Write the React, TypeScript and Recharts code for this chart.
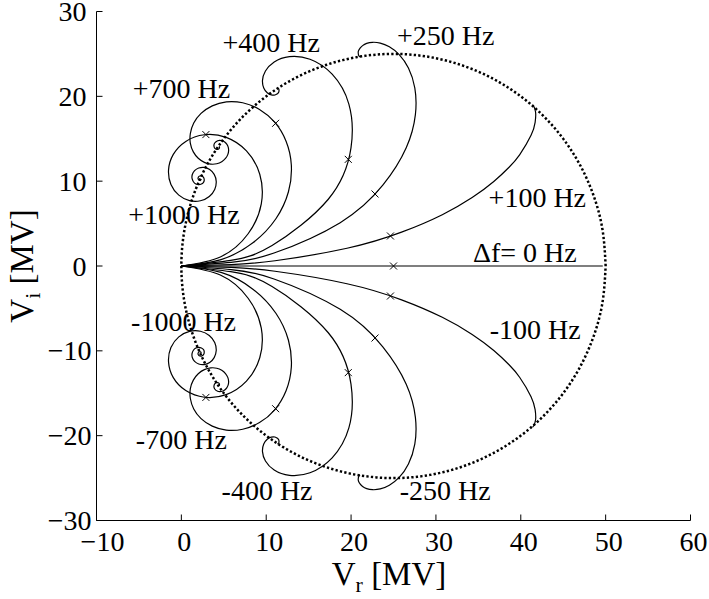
import React from 'react';
import { ComposedChart, Line, Scatter, XAxis, YAxis, Label } from 'recharts';

const FONT = '"Liberation Serif", "Times New Roman", Times, serif';

// Axis ticks
const xTicks = [-10, 0, 10, 20, 30, 40, 50, 60];
const yTicks = [-30, -20, -10, 0, 10, 20, 30];

// Steady-state circle (dotted)
const circleVr = [50, 49.62, 48.49, 46.65, 44.15, 41.07, 37.5, 33.55, 29.34, 25, 20.66, 16.45, 12.5, 8.93, 5.85, 3.35, 1.51, 0.38, 0, 0.38, 1.51, 3.35, 5.85, 8.93, 12.5, 16.45, 20.66, 25, 29.34, 33.55, 37.5, 41.07, 44.15, 46.65, 48.49, 49.62, 50];
const circleVi = [0, 4.34, 8.55, 12.5, 16.07, 19.15, 21.65, 23.49, 24.62, 25, 24.62, 23.49, 21.65, 19.15, 16.07, 12.5, 8.55, 4.34, 0, -4.34, -8.55, -12.5, -16.07, -19.15, -21.65, -23.49, -24.62, -25, -24.62, -23.49, -21.65, -19.15, -16.07, -12.5, -8.55, -4.34, 0];

// Δf = 0 Hz
const vr0 = [0, 25, 49.66];
const vi0 = [0, 0, 0];

// ±100 Hz
const vr100 = [0, 5.87, 11.04, 19.52, 25.95, 30.75, 34.27, 36.82, 38.62, 39.86, 41.21, 41.69, 41.76, 41.66, 41.52, 41.39];
const vi100 = [0, 0.17, 0.62, 2.09, 3.99, 6.05, 8.07, 9.96, 11.64, 13.11, 15.4, 16.94, 17.91, 18.5, 18.83, 19.0];
const viN100 = [0, -0.17, -0.62, -2.09, -3.99, -6.05, -8.07, -9.96, -11.64, -13.11, -15.4, -16.94, -17.91, -18.5, -18.83, -19.0];

// ±250 Hz
const vr250 = [0, 5.86, 10.92, 18.72, 23.74, 26.5, 27.58, 27.51, 26.76, 25.67, 24.51, 23.44, 22.53, 21.84, 21.36, 21.06, 20.89, 20.84, 20.91, 21.06];
const vi250 = [0, 0.42, 1.53, 5.11, 9.52, 13.93, 17.84, 20.99, 23.33, 24.92, 25.84, 26.28, 26.37, 26.24, 25.98, 25.68, 25.39, 25.14, 24.79, 24.64];
const viN250 = [0, -0.42, -1.53, -5.11, -9.52, -13.93, -17.84, -20.99, -23.33, -24.92, -25.84, -26.28, -26.37, -26.24, -25.98, -25.68, -25.39, -25.14, -24.79, -24.64];

// ±400 Hz
const vr400 = [0, 5.82, 10.69, 17.29, 19.99, 19.74, 17.77, 15.16, 12.74, 10.94, 9.91, 9.56, 9.71, 10.12, 10.6, 11.02, 11.32, 11.48, 11.48, 11.3];
const vi400 = [0, 0.67, 2.42, 7.84, 13.92, 19.09, 22.61, 24.37, 24.68, 24.05, 22.98, 21.88, 20.99, 20.42, 20.17, 20.16, 20.31, 20.51, 20.86, 20.98];
const viN400 = [0, -0.67, -2.42, -7.84, -13.92, -19.09, -22.61, -24.37, -24.68, -24.05, -22.98, -21.88, -20.99, -20.42, -20.17, -20.16, -20.31, -20.51, -20.86, -20.98];

// ±700 Hz
const vr700 = [0, 4.68, 8.47, 11.14, 12.62, 12.96, 12.34, 11.0, 9.21, 7.23, 5.3, 3.64, 2.32, 1.46, 1.06, 1.06, 1.41, 1.99, 2.71, 3.46, 4.17, 4.76, 5.2, 5.47, 5.57, 5.52, 5.35, 5.11, 4.82, 4.54, 4.28, 3.93, 3.84, 3.95, 4.16, 4.35, 4.47, 4.49, 4.44];
const vi700 = [0, 0.76, 2.76, 5.57, 8.75, 11.91, 14.71, 16.95, 18.46, 19.24, 19.35, 18.88, 17.99, 16.85, 15.62, 14.45, 13.45, 12.7, 12.22, 12.01, 12.05, 12.3, 12.68, 13.13, 13.59, 14.02, 14.37, 14.62, 14.77, 14.81, 14.77, 14.5, 14.15, 13.87, 13.75, 13.77, 13.88, 14.02, 14.11];
const viN700 = [0, -0.76, -2.76, -5.57, -8.75, -11.91, -14.71, -16.95, -18.46, -19.24, -19.35, -18.88, -17.99, -16.85, -15.62, -14.45, -13.45, -12.7, -12.22, -12.01, -12.05, -12.3, -12.68, -13.13, -13.59, -14.02, -14.37, -14.62, -14.77, -14.81, -14.77, -14.5, -14.15, -13.87, -13.75, -13.77, -13.88, -14.02, -14.11];

// ±1000 Hz
const vr1000 = [0, 4.59, 7.87, 9.42, 9.24, 7.67, 5.28, 2.72, 0.52, -0.95, -1.51, -1.23, -0.3, 0.96, 2.25, 3.29, 3.93, 4.11, 3.87, 3.34, 2.68, 2.05, 1.56, 1.29, 1.26, 1.42, 1.71, 2.05, 2.36, 2.59, 2.69, 2.64, 2.42, 2.17, 2.0, 1.98, 2.13, 2.28, 2.34];
const vi1000 = [0, 1.07, 3.8, 7.33, 10.82, 13.57, 15.16, 15.47, 14.69, 13.16, 11.33, 9.61, 8.35, 7.7, 7.69, 8.2, 9.03, 9.97, 10.8, 11.37, 11.62, 11.55, 11.24, 10.79, 10.32, 9.93, 9.67, 9.59, 9.66, 9.84, 10.07, 10.41, 10.6, 10.61, 10.47, 10.24, 10.11, 10.14, 10.26];
const viN1000 = [0, -1.07, -3.8, -7.33, -10.82, -13.57, -15.16, -15.47, -14.69, -13.16, -11.33, -9.61, -8.35, -7.7, -7.69, -8.2, -9.03, -9.97, -10.8, -11.37, -11.62, -11.55, -11.24, -10.79, -10.32, -9.93, -9.67, -9.59, -9.66, -9.84, -10.07, -10.41, -10.6, -10.61, -10.47, -10.24, -10.11, -10.14, -10.26];

// "x" markers (voltage after the fill time)
const markVr = [25.0, 24.64, 22.82, 19.67, 11.11, 2.89, 24.64, 22.82, 19.67, 11.11, 2.89];
const markVi = [0, 3.54, 8.49, 12.57, 16.82, 15.49, -3.54, -8.49, -12.57, -16.82, -15.49];

// Annotation texts and their anchor (baseline centre) in data units
const labelTexts = ['+250 Hz', '+400 Hz', '+700 Hz', '+1000 Hz', '+100 Hz', '\u0394f= 0 Hz', '-100 Hz', '-1000 Hz', '-700 Hz', '-400 Hz', '-250 Hz'];
const labelVr = [31.16, 10.58, 0.0, 0.3, 41.95, 40.48, 41.7, 0.26, 0.0, 10.1, 31.1];
const labelVi = [26.11, 25.23, 19.86, 4.95, 7.01, 0.53, -8.6, -7.66, -21.57, -27.6, -27.64];

const pts = (xs: number[], ys: number[]) => xs.map((x, i) => ({ x, y: ys[i] }));

const curves = [
  pts(vr0, vi0),
  pts(vr100, vi100), pts(vr100, viN100),
  pts(vr250, vi250), pts(vr250, viN250),
  pts(vr400, vi400), pts(vr400, viN400),
  pts(vr700, vi700), pts(vr700, viN700),
  pts(vr1000, vi1000), pts(vr1000, viN1000),
];
const circle = pts(circleVr, circleVi);
const marks = pts(markVr, markVi);
const annotations = labelTexts.map((t, i) => ({ x: labelVr[i], y: labelVi[i], label: t }));

const fmt = (v: number) => (v < 0 ? '\u2212' + Math.abs(v) : String(v));

const BottomTick = (props: any) => {
  const { x, y, payload } = props;
  const v = payload.value;
  return (
    <g>
      <line x1={x} y1={y} x2={x} y2={y - 6} stroke="#000" strokeWidth={1} />
      <text x={x + (v < 0 ? 6 : 3)} y={y + 30} textAnchor="middle" fontFamily={FONT} fontSize={28} fill="#000">{fmt(v)}</text>
    </g>
  );
};
const TopTick = (props: any) => {
  const { x, y } = props;
  return <line x1={x} y1={y} x2={x} y2={y + 6} stroke="#000" strokeWidth={1} />;
};
const LeftTick = (props: any) => {
  const { x, y, payload } = props;
  const v = payload.value;
  return (
    <g>
      <line x1={x} y1={y} x2={x + 6} y2={y} stroke="#000" strokeWidth={1} />
      <text x={x - (v < 0 ? 5 : 10)} y={y + 9.5} textAnchor="end" fontFamily={FONT} fontSize={28} fill="#000">{fmt(v)}</text>
    </g>
  );
};
const RightTick = (props: any) => {
  const { x, y } = props;
  return <line x1={x} y1={y} x2={x - 6} y2={y} stroke="#000" strokeWidth={1} />;
};

const XMark = (props: any) => {
  const { cx, cy } = props;
  const d = 3.5;
  return (
    <path d={`M${cx - d},${cy - d}L${cx + d},${cy + d}M${cx - d},${cy + d}L${cx + d},${cy - d}`} stroke="#000" strokeWidth={1} fill="none" />
  );
};

const TextMark = (props: any) => {
  const { cx, cy, payload } = props;
  return (
    <text x={cx} y={cy} textAnchor="middle" fontFamily={FONT} fontSize={28} fill="#000">{payload.label}</text>
  );
};

export default function App() {
  return (
    <div style={{ position: 'absolute', left: 0, top: 0, background: '#fff' }}>
      <ComposedChart width={709} height={599} margin={{ top: 11.5, right: 18.5, bottom: 0, left: 0 }}>
        <XAxis
          xAxisId={0}
          type="number"
          dataKey="x"
          domain={[-10, 60]}
          ticks={xTicks}
          interval={0}
          allowDataOverflow
          height={78.5}
          tickSize={0}
          tickMargin={0}
          tickLine={false}
          axisLine={{ stroke: '#000', strokeWidth: 1 }}
          tick={BottomTick}
        >
          <Label
            content={() => (
              <text x={389} y={585} textAnchor="middle" fontFamily={FONT} fontSize={33} fill="#000">
                V<tspan fontSize={22} dy={7}>r</tspan><tspan dy={-7}>{' [MV]'}</tspan>
              </text>
            )}
          />
        </XAxis>
        <XAxis
          xAxisId="top"
          orientation="top"
          type="number"
          domain={[-10, 60]}
          ticks={xTicks}
          interval={0}
          allowDataOverflow
          height={0}
          tickSize={0}
          tickMargin={0}
          tickLine={false}
          axisLine={{ stroke: '#000', strokeWidth: 1 }}
          tick={TopTick}
        />
        <YAxis
          yAxisId={0}
          type="number"
          dataKey="y"
          domain={[-30, 30]}
          ticks={yTicks}
          interval={0}
          allowDataOverflow
          width={96.5}
          tickSize={0}
          tickMargin={0}
          tickLine={false}
          axisLine={{ stroke: '#000', strokeWidth: 1 }}
          tick={LeftTick}
        >
          <Label
            content={() => (
              <text transform="translate(33,266) rotate(-90)" textAnchor="middle" fontFamily={FONT} fontSize={33} fill="#000">
                V<tspan fontSize={22} dy={7}>i</tspan><tspan dy={-7}>{' [MV]'}</tspan>
              </text>
            )}
          />
        </YAxis>
        <YAxis
          yAxisId="right"
          orientation="right"
          type="number"
          domain={[-30, 30]}
          ticks={yTicks}
          interval={0}
          allowDataOverflow
          width={0}
          tickSize={0}
          tickMargin={0}
          tickLine={false}
          axisLine={{ stroke: '#000', strokeWidth: 1 }}
          tick={RightTick}
        />
        <Line
          data={circle}
          dataKey="y"
          type="natural"
          dot={false}
          stroke="#000"
          strokeWidth={2.5}
          strokeDasharray="2.3 2.2"
          isAnimationActive={false}
        />
        {curves.map((c, i) => (
          <Line
            key={i}
            data={c}
            dataKey="y"
            type="natural"
            dot={false}
            stroke="#000"
            strokeWidth={1.2}
            isAnimationActive={false}
          />
        ))}
        <Scatter data={marks} dataKey="y" shape={XMark} isAnimationActive={false} />
        <Scatter data={annotations} dataKey="y" shape={TextMark} isAnimationActive={false} />
      </ComposedChart>
    </div>
  );
}
